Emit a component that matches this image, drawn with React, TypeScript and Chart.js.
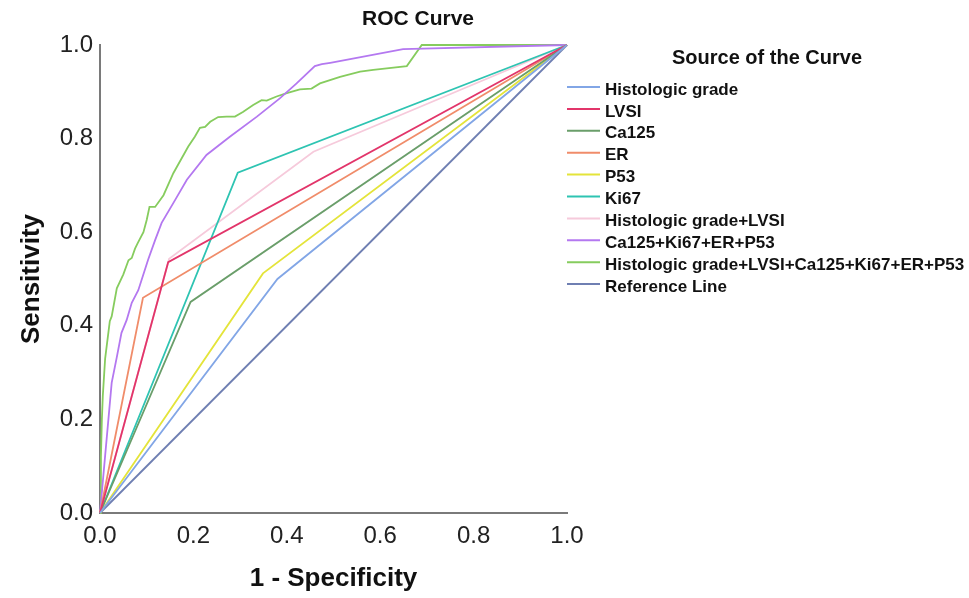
import React, { useEffect, useRef } from "react";
import { Chart, registerables } from "chart.js";

Chart.register(...registerables);

const FONT = '"Liberation Sans", Arial, Helvetica, sans-serif';

const chartTitle = "ROC Curve";
const legendTitle = "Source of the Curve";
const xAxisTitle = "1 - Specificity";
const yAxisTitle = "Sensitivity";
const tickValues = [0, 0.2, 0.4, 0.6, 0.8, 1.0];

const seriesNames = [
  "Histologic grade",
  "LVSI",
  "Ca125",
  "ER",
  "P53",
  "Ki67",
  "Histologic grade+LVSI",
  "Ca125+Ki67+ER+P53",
  "Histologic grade+LVSI+Ca125+Ki67+ER+P53",
  "Reference Line",
];

const seriesColors = [
  "#82a6e6",
  "#e2356a",
  "#6a9e6a",
  "#f08c6a",
  "#e4e43a",
  "#2ec4b2",
  "#f6cadb",
  "#b478f0",
  "#86cc5e",
  "#6f7fb2",
];

// 1 - Specificity (x) and Sensitivity (y) per curve
const histologicGradeX = [0, 0.38, 1];
const histologicGradeY = [0, 0.5, 1];

const lvsiX = [0, 0.146, 1];
const lvsiY = [0, 0.536, 1];

const ca125X = [0, 0.194, 1];
const ca125Y = [0, 0.451, 1];

const erX = [0, 0.092, 1];
const erY = [0, 0.46, 1];

const p53X = [0, 0.349, 1];
const p53Y = [0, 0.512, 1];

const ki67X = [0, 0.295, 1];
const ki67Y = [0, 0.727, 1];

const histoLvsiX = [0, 0.148, 0.457, 1];
const histoLvsiY = [0, 0.543, 0.772, 1];

const combo4X = [0, 0.025, 0.036, 0.046, 0.057, 0.068, 0.082, 0.103, 0.118, 0.132, 0.161, 0.186, 0.228, 0.278, 0.336, 0.385, 0.421, 0.46, 0.475, 0.493, 0.649, 1];
const combo4Y = [0, 0.278, 0.333, 0.385, 0.412, 0.449, 0.476, 0.541, 0.583, 0.62, 0.669, 0.712, 0.765, 0.804, 0.847, 0.886, 0.918, 0.955, 0.959, 0.962, 0.991, 1];

const allX = [0, 0.002, 0.004, 0.006, 0.011, 0.021, 0.025, 0.036, 0.05, 0.061, 0.068, 0.075, 0.081, 0.093, 0.1, 0.106, 0.118, 0.136, 0.157, 0.189, 0.203, 0.214, 0.225, 0.236, 0.253, 0.271, 0.289, 0.306, 0.328, 0.346, 0.357, 0.378, 0.4, 0.428, 0.453, 0.471, 0.514, 0.557, 0.585, 0.614, 0.657, 0.689, 1];
const allY = [0, 0.12, 0.2, 0.25, 0.33, 0.41, 0.42, 0.48, 0.51, 0.54, 0.545, 0.565, 0.577, 0.6, 0.626, 0.654, 0.654, 0.679, 0.726, 0.783, 0.804, 0.823, 0.825, 0.836, 0.846, 0.847, 0.847, 0.857, 0.872, 0.882, 0.881, 0.89, 0.897, 0.905, 0.907, 0.918, 0.932, 0.943, 0.947, 0.95, 0.955, 1, 1];

const referenceX = [0, 1];
const referenceY = [0, 1];

const seriesX = [histologicGradeX, lvsiX, ca125X, erX, p53X, ki67X, histoLvsiX, combo4X, allX, referenceX];
const seriesY = [histologicGradeY, lvsiY, ca125Y, erY, p53Y, ki67Y, histoLvsiY, combo4Y, allY, referenceY];

const overlayPlugin = {
  id: "overlay",
  afterDraw(chart: any) {
    const ctx = chart.ctx as CanvasRenderingContext2D;
    ctx.save();
    ctx.fillStyle = "#111";
    ctx.textBaseline = "middle";
    ctx.textAlign = "center";
    ctx.font = `bold 21px ${FONT}`;
    ctx.fillText(chartTitle, 418, 19);
    ctx.font = `bold 20px ${FONT}`;
    ctx.fillText(legendTitle, 767, 58);
    ctx.textAlign = "left";
    ctx.font = `bold 17px ${FONT}`;
    chart.data.datasets.forEach((ds: any, i: number) => {
      const y = 87 + i * 21.9;
      ctx.strokeStyle = ds.borderColor;
      ctx.lineWidth = 2;
      ctx.beginPath();
      ctx.moveTo(567, y);
      ctx.lineTo(600, y);
      ctx.stroke();
      ctx.fillStyle = "#111";
      ctx.fillText(ds.label, 605, y + 3);
    });
    ctx.restore();
  },
};

export default function App() {
  const canvasRef = useRef<HTMLCanvasElement | null>(null);

  useEffect(() => {
    if (!canvasRef.current) return;
    const datasets = seriesNames.map((name, i) => ({
      label: name,
      data: seriesX[i].map((x, j) => ({ x, y: seriesY[i][j] })),
      borderColor: seriesColors[i],
      backgroundColor: seriesColors[i],
      borderWidth: 1.8,
      pointRadius: 0,
      tension: 0,
      fill: false,
      clip: false as any,
    }));

    const chart = new Chart(canvasRef.current, {
      type: "line",
      data: { datasets },
      options: {
        responsive: false,
        animation: false,
        layout: { padding: { left: 0, top: 45, right: 402, bottom: 0 } },
        plugins: {
          legend: { display: false },
          title: { display: false },
          tooltip: { enabled: false },
        },
        scales: {
          x: {
            type: "linear",
            min: 0,
            max: 1,
            afterFit: (scale: any) => {
              scale.height = 85;
            },
            afterBuildTicks: (scale: any) => {
              scale.ticks = tickValues.map((v) => ({ value: v }));
            },
            grid: { display: false, drawTicks: false },
            border: { display: true, color: "#7a7a7a", width: 2 },
            ticks: {
              padding: 9,
              color: "#222",
              font: { family: FONT, size: 24 },
              callback: (v: any) => Number(v).toFixed(1),
            },
            title: {
              display: true,
              text: xAxisTitle,
              color: "#111",
              font: { family: FONT, size: 26, weight: "bold" },
              padding: { top: 0, bottom: 4 },
            },
          },
          y: {
            type: "linear",
            min: 0,
            max: 1,
            afterFit: (scale: any) => {
              scale.width = 100;
            },
            afterBuildTicks: (scale: any) => {
              scale.ticks = tickValues.map((v) => ({ value: v }));
            },
            grid: { display: false, drawTicks: false },
            border: { display: true, color: "#7a7a7a", width: 2 },
            ticks: {
              padding: 7,
              color: "#222",
              font: { family: FONT, size: 24 },
              callback: (v: any) => Number(v).toFixed(1),
            },
            title: {
              display: true,
              text: yAxisTitle,
              color: "#111",
              font: { family: FONT, size: 26, weight: "bold" },
              padding: { top: 16, bottom: 0 },
            },
          },
        },
      },
      plugins: [overlayPlugin],
    });
    return () => chart.destroy();
  }, []);

  return (
    <div style={{ position: "absolute", left: 0, top: 0, width: 969, height: 598, background: "#fff" }}>
      <canvas ref={canvasRef} width={969} height={598} style={{ display: "block" }} />
    </div>
  );
}
